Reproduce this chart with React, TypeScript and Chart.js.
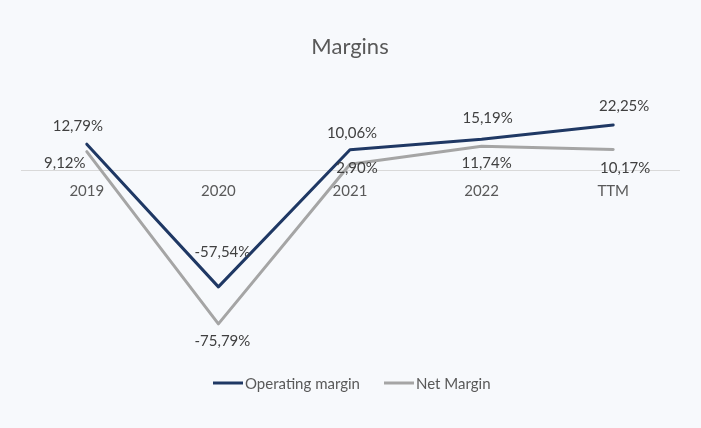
import React, { useEffect, useRef } from 'react';
import { Chart, registerables } from 'chart.js';

Chart.register(...registerables);

const categories = ['2019', '2020', '2021', '2022', 'TTM'];
const operatingMargin = [12.79, -57.54, 10.06, 15.19, 22.25];
const netMargin = [9.12, -75.79, 2.9, 11.74, 10.17];
const seriesNames = ['Operating margin', 'Net Margin'];
const chartTitle = 'Margins';

// label placement (dx, dy from point), styling only
const opLabelOffsets = [[-9, -18], [4, -35], [2, -17], [6, -21], [11, -19]];
const netLabelOffsets = [[-22, 12], [4, 17], [7, 4], [5, 17], [12, 19]];

const FONT = 'Lato, "Open Sans", sans-serif';
const BG = '#F7F9FC';
const OP_COLOR = '#1F3864';
const NET_COLOR = '#A5A5A5';

const fmt = (v: number) => v.toFixed(2).replace('.', ',') + '%';

const decorPlugin = {
  id: 'decor',
  beforeDraw(chart: any) {
    const { ctx, width, height } = chart;
    ctx.save();
    ctx.fillStyle = BG;
    ctx.fillRect(0, 0, width, height);
    ctx.restore();
  },
  afterDraw(chart: any) {
    const { ctx } = chart;
    ctx.save();
    // title
    ctx.fillStyle = '#595959';
    ctx.font = `22px ${FONT}`;
    ctx.textAlign = 'center';
    ctx.textBaseline = 'middle';
    ctx.fillText(chartTitle, 350, 47);

    // data labels
    ctx.font = `15px ${FONT}`;
    ctx.fillStyle = '#404040';
    const offsets = [opLabelOffsets, netLabelOffsets];
    chart.data.datasets.forEach((ds: any, di: number) => {
      const meta = chart.getDatasetMeta(di);
      meta.data.forEach((pt: any, i: number) => {
        const [dx, dy] = offsets[di][i];
        ctx.fillText(fmt(ds.data[i]), pt.x + dx, pt.y + dy);
      });
    });

    // legend
    const ly = 384;
    ctx.textAlign = 'left';
    ctx.fillStyle = '#595959';
    ctx.lineWidth = 3;
    ctx.lineCap = 'butt';
    const items = [
      { x: 213, color: OP_COLOR, label: seriesNames[0] },
      { x: 384, color: NET_COLOR, label: seriesNames[1] },
    ];
    items.forEach((it) => {
      ctx.strokeStyle = it.color;
      ctx.beginPath();
      ctx.moveTo(it.x, ly - 1);
      ctx.lineTo(it.x + 30, ly - 1);
      ctx.stroke();
      ctx.fillText(it.label, it.x + 32, ly);
    });
    ctx.restore();
  },
};

export default function App() {
  const ref = useRef<HTMLCanvasElement | null>(null);
  useEffect(() => {
    document.body.style.margin = '0';
    document.body.style.background = BG;
    if (!ref.current) return;
    const chart = new Chart(ref.current, {
      type: 'line',
      data: {
        labels: categories,
        datasets: [
          {
            label: seriesNames[0],
            data: operatingMargin,
            borderColor: OP_COLOR,
            backgroundColor: OP_COLOR,
            borderWidth: 3,
            pointRadius: 0,
            tension: 0,
            borderCapStyle: 'round',
            borderJoinStyle: 'round',
          },
          {
            label: seriesNames[1],
            data: netMargin,
            borderColor: NET_COLOR,
            backgroundColor: NET_COLOR,
            borderWidth: 3,
            pointRadius: 0,
            tension: 0,
            borderCapStyle: 'round',
            borderJoinStyle: 'round',
          },
        ],
      },
      options: {
        responsive: false,
        animation: false,
        layout: { padding: { top: 89, bottom: 55, left: 21, right: 22 } },
        plugins: {
          legend: { display: false },
          title: { display: false },
          tooltip: { enabled: false },
        },
        scales: {
          x: {
            type: 'category',
            offset: true,
            position: { y: 0 },
            grid: { display: false, drawTicks: false },
            border: { display: true, color: '#D9D9D9', width: 1 },
            ticks: {
              color: '#595959',
              font: { family: FONT, size: 15 },
              padding: 12,
              maxRotation: 0,
            },
          },
          y: { display: false, min: -100, max: 40 },
        },
      },
      plugins: [decorPlugin],
    } as any);
    return () => chart.destroy();
  }, []);
  return (
    <div style={{ width: 701, height: 428 }}>
      <canvas ref={ref} width={701} height={428} style={{ display: 'block' }} />
    </div>
  );
}
